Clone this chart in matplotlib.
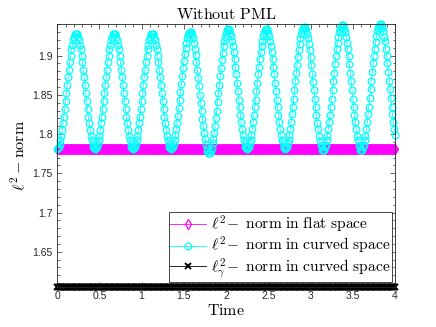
import numpy as np
import matplotlib
matplotlib.use("Agg")
import matplotlib.pyplot as plt
from matplotlib.ticker import MultipleLocator

plt.rcParams['mathtext.fontset'] = 'cm'

# time samples (dt = 0.01) and the three norms
time = np.linspace(0, 4, 401)

norm_curved = [
    # t = 0 .. 0.44
    1.781, 1.782, 1.784, 1.787, 1.792, 1.798, 1.805, 1.814, 1.822, 1.832, 1.842, 1.852,
    1.863, 1.873, 1.882, 1.892, 1.900, 1.908, 1.914, 1.920, 1.924, 1.927, 1.928,
    1.928, 1.927, 1.924, 1.920, 1.914, 1.908, 1.900, 1.892, 1.882, 1.873, 1.863,
    1.852, 1.842, 1.832, 1.822, 1.814, 1.805, 1.798, 1.792, 1.787, 1.784, 1.782,
    # t = 0.45 .. 0.89
    1.781, 1.782, 1.784, 1.787, 1.792, 1.798, 1.805, 1.814, 1.822, 1.832, 1.842, 1.852,
    1.863, 1.873, 1.882, 1.892, 1.900, 1.908, 1.914, 1.920, 1.924, 1.927, 1.928,
    1.928, 1.927, 1.924, 1.920, 1.914, 1.908, 1.900, 1.892, 1.882, 1.873, 1.863,
    1.852, 1.842, 1.832, 1.822, 1.814, 1.805, 1.798, 1.792, 1.787, 1.784, 1.782,
    # t = 0.90 .. 1.34
    1.781, 1.782, 1.784, 1.787, 1.792, 1.798, 1.805, 1.814, 1.822, 1.832, 1.842, 1.852,
    1.863, 1.873, 1.882, 1.892, 1.900, 1.908, 1.914, 1.920, 1.924, 1.927, 1.928,
    1.928, 1.927, 1.924, 1.920, 1.914, 1.908, 1.900, 1.892, 1.882, 1.873, 1.863,
    1.852, 1.842, 1.832, 1.822, 1.814, 1.805, 1.798, 1.792, 1.787, 1.784, 1.782,
    # t = 1.35 .. 1.79
    1.781, 1.782, 1.784, 1.787, 1.792, 1.799, 1.806, 1.814, 1.823, 1.833, 1.843, 1.853,
    1.864, 1.874, 1.884, 1.893, 1.902, 1.910, 1.916, 1.922, 1.926, 1.929, 1.930,
    1.930, 1.929, 1.926, 1.922, 1.916, 1.909, 1.901, 1.892, 1.882, 1.872, 1.861,
    1.850, 1.840, 1.829, 1.819, 1.810, 1.801, 1.794, 1.787, 1.782, 1.779, 1.776,
    # t = 1.80 .. 2.24
    1.776, 1.776, 1.779, 1.782, 1.788, 1.794, 1.802, 1.810, 1.820, 1.830, 1.841, 1.852,
    1.863, 1.874, 1.884, 1.894, 1.903, 1.912, 1.919, 1.924, 1.929, 1.932, 1.934,
    1.934, 1.932, 1.929, 1.925, 1.919, 1.912, 1.904, 1.896, 1.886, 1.876, 1.865,
    1.855, 1.844, 1.834, 1.824, 1.815, 1.806, 1.799, 1.793, 1.788, 1.784, 1.782,
    # t = 2.25 .. 2.69
    1.781, 1.782, 1.784, 1.788, 1.793, 1.799, 1.806, 1.815, 1.824, 1.834, 1.844, 1.855,
    1.865, 1.876, 1.886, 1.896, 1.904, 1.912, 1.919, 1.925, 1.929, 1.932, 1.934,
    1.934, 1.932, 1.929, 1.925, 1.919, 1.912, 1.904, 1.896, 1.886, 1.876, 1.865,
    1.855, 1.844, 1.834, 1.824, 1.815, 1.806, 1.799, 1.793, 1.788, 1.784, 1.782,
    # t = 2.70 .. 3.14
    1.781, 1.782, 1.784, 1.788, 1.793, 1.799, 1.807, 1.815, 1.825, 1.835, 1.845, 1.856,
    1.867, 1.878, 1.888, 1.898, 1.907, 1.915, 1.922, 1.928, 1.932, 1.935, 1.937,
    1.937, 1.935, 1.932, 1.928, 1.922, 1.915, 1.907, 1.898, 1.888, 1.877, 1.866,
    1.856, 1.845, 1.834, 1.824, 1.814, 1.806, 1.798, 1.791, 1.786, 1.783, 1.780,
    # t = 3.15 .. 3.59
    1.780, 1.780, 1.783, 1.786, 1.792, 1.798, 1.806, 1.815, 1.824, 1.835, 1.845, 1.856,
    1.867, 1.878, 1.889, 1.899, 1.908, 1.916, 1.924, 1.930, 1.934, 1.937, 1.939,
    1.939, 1.937, 1.934, 1.930, 1.924, 1.916, 1.908, 1.899, 1.889, 1.878, 1.867,
    1.856, 1.845, 1.835, 1.824, 1.815, 1.806, 1.798, 1.792, 1.786, 1.783, 1.780,
    # t = 3.60 .. 4.00
    1.780, 1.780, 1.783, 1.786, 1.792, 1.798, 1.806, 1.815, 1.825, 1.835, 1.846, 1.857,
    1.868, 1.879, 1.890, 1.900, 1.909, 1.917, 1.925, 1.931, 1.935, 1.938, 1.940,
    1.940, 1.938, 1.935, 1.931, 1.924, 1.918, 1.909, 1.900, 1.890, 1.879, 1.868,
    1.857, 1.846, 1.835, 1.825, 1.815, 1.806, 1.799,
]
norm_flat = np.full(len(time), 1.781)
norm_gamma = np.full(len(time), 1.605)

labels = [r'$\ell^2\!-\ \mathrm{norm\ in\ flat\ space}$',
          r'$\ell^2\!-\ \mathrm{norm\ in\ curved\ space}$',
          r'$\ell^2_\gamma\!-\ \mathrm{norm\ in\ curved\ space}$']

fig = plt.figure(figsize=(4.36, 3.27), dpi=100)
ax = fig.add_axes([0.131, 0.122, 0.775, 0.804])

ax.plot(time, norm_flat, color='magenta', marker='d', ms=5.5, mfc='none',
        mew=0.9, lw=0.6, label=labels[0], clip_on=False)
ax.plot(time, norm_curved, color='cyan', marker='o', ms=4.8, mfc='none',
        mew=0.9, lw=0.6, label=labels[1], clip_on=False)
ax.plot(time, norm_gamma, color='black', marker='x', ms=4,
        mew=1.4, lw=0.6, label=labels[2], clip_on=False)

ax.set_xlim(0, 4)
ax.set_ylim(1.605, 1.94)
ax.xaxis.set_minor_locator(MultipleLocator(0.1))
ax.yaxis.set_minor_locator(MultipleLocator(0.01))
ax.set_xticks([0, 0.5, 1, 1.5, 2, 2.5, 3, 3.5, 4])
ax.set_xticklabels(['0', '0.5', '1', '1.5', '2', '2.5', '3', '3.5', '4'])
ax.set_yticks([1.65, 1.7, 1.75, 1.8, 1.85, 1.9])
ax.set_yticklabels(['1.65', '1.7', '1.75', '1.8', '1.85', '1.9'])

edge = '#262626'
ax.tick_params(which='both', direction='in', top=True, right=True,
               colors=edge, labelsize=7.5, labelfontfamily='Liberation Sans')
ax.tick_params(which='major', length=3.5, width=0.5, pad=3)
ax.tick_params(which='minor', length=1.8, width=0.5)
for sp in ax.spines.values():
    sp.set_color(edge)
    sp.set_linewidth(0.6)

ax.set_title(r'$\mathrm{Without\ PML}$', fontsize=11.5, pad=4)
ax.set_xlabel(r'$\mathrm{Time}$', fontsize=11.5, labelpad=1)
ax.set_ylabel(r'$\ell^2-\mathrm{norm}$', fontsize=11.5, labelpad=4)

leg = ax.legend(loc='lower right', bbox_to_anchor=(0.991, 0.019),
                borderaxespad=0, fontsize=11.2, handlelength=2.3,
                handletextpad=0.3, borderpad=0.1, labelspacing=0.0,
                fancybox=False, framealpha=1, edgecolor=edge)
leg.get_frame().set_linewidth(0.6)

fig.savefig('out.png', dpi=100)
